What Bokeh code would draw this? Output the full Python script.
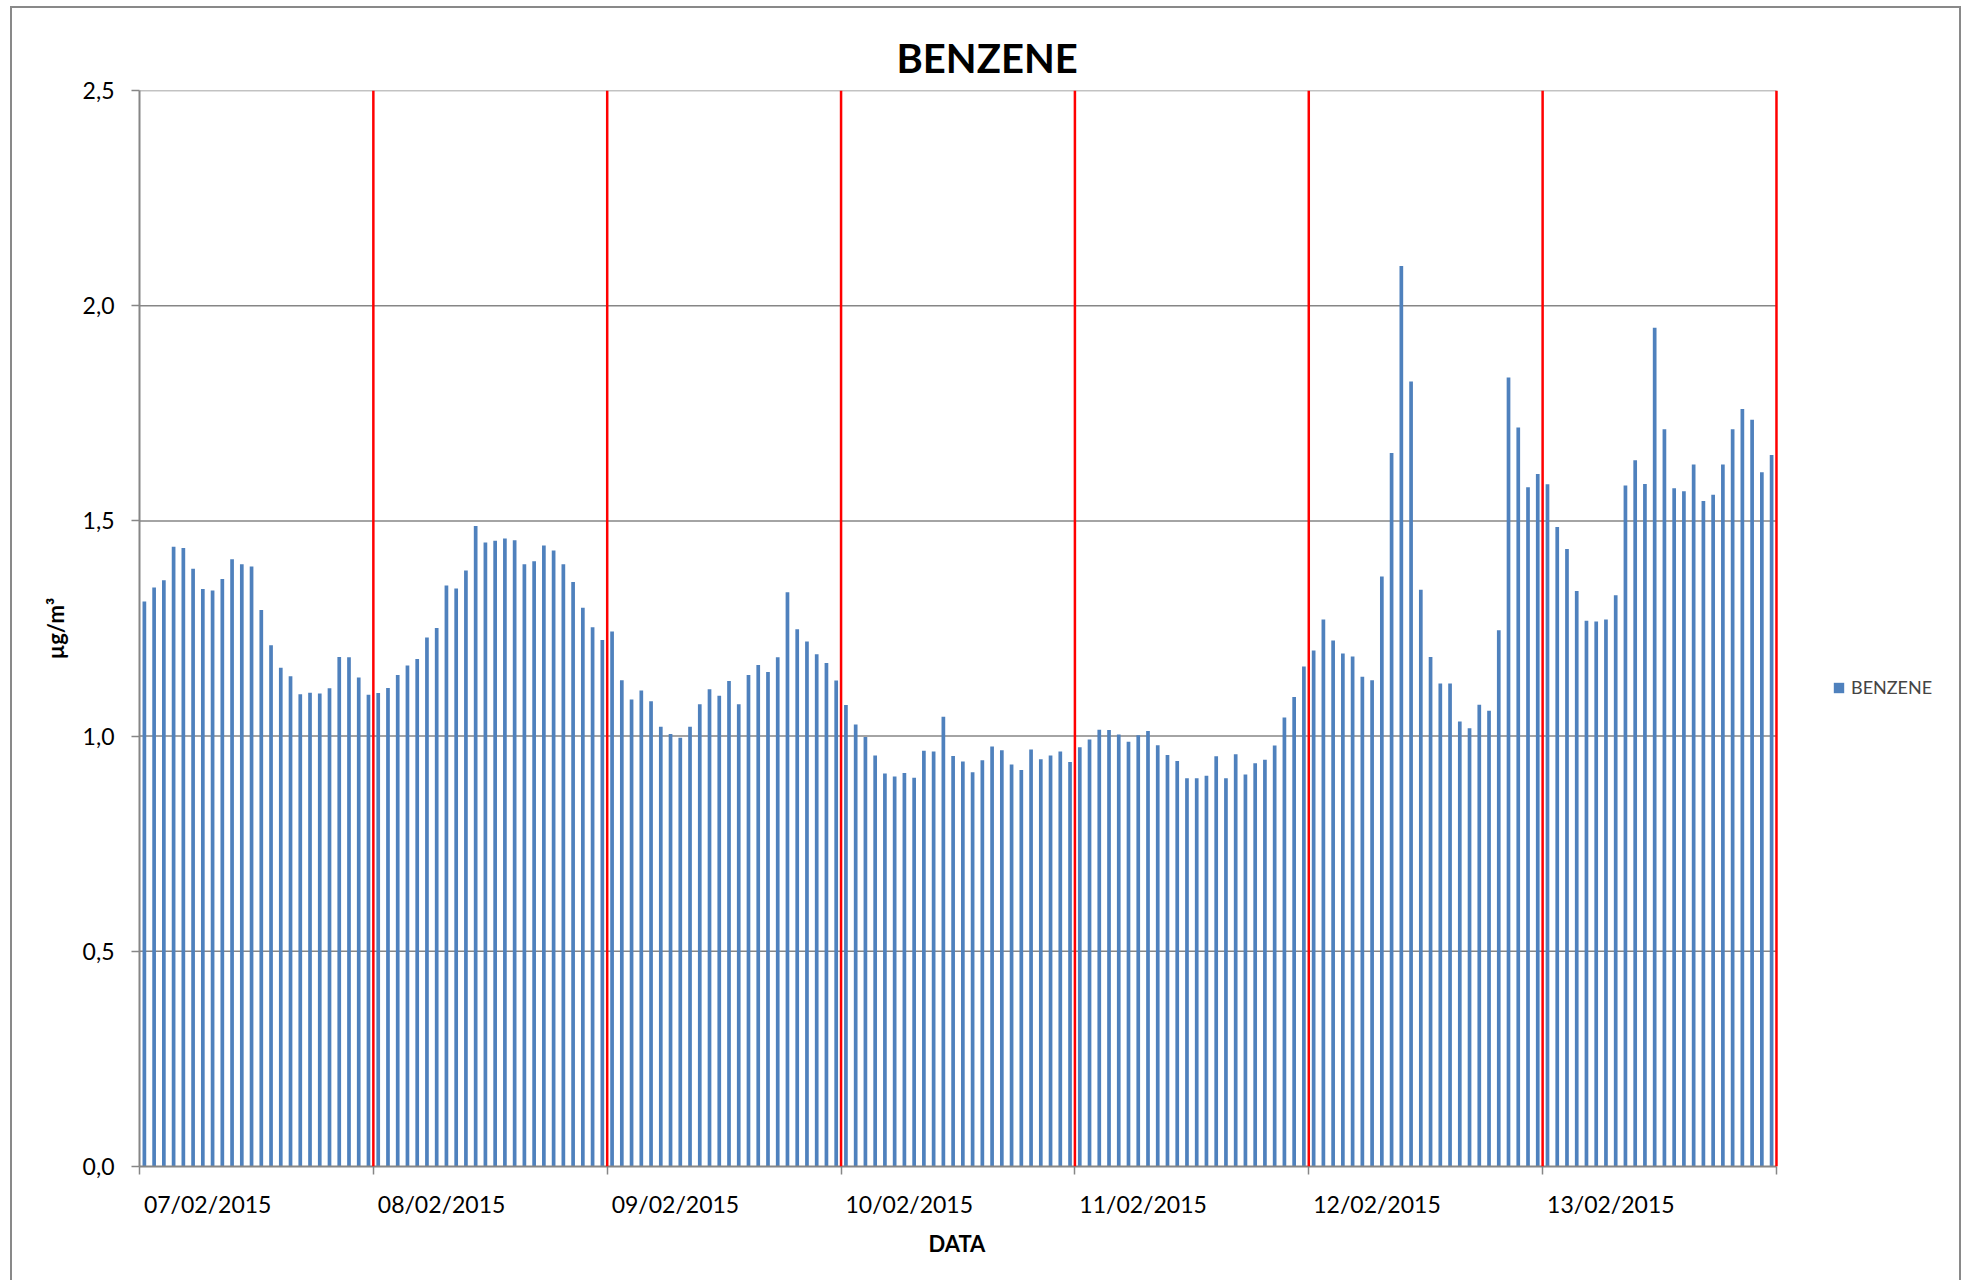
from bokeh.plotting import figure
from bokeh.models import (Range1d, FixedTicker, Span, Legend, LegendItem,
                          ColumnDataSource, Title)
from bokeh.embed import file_html
from bokeh.resources import INLINE

# ---- data (hourly benzene, µg/m³) ----
dates = ["07/02/2015", "08/02/2015", "09/02/2015", "10/02/2015",
         "11/02/2015", "12/02/2015", "13/02/2015"]
day1 = [1.313, 1.345, 1.362, 1.440, 1.437, 1.389, 1.342, 1.338, 1.365, 1.411, 1.399, 1.394,
        1.293, 1.211, 1.159, 1.139, 1.097, 1.101, 1.099, 1.111, 1.184, 1.183, 1.136, 1.096]
day2 = [1.100, 1.112, 1.142, 1.164, 1.179, 1.229, 1.251, 1.350, 1.343, 1.385, 1.488, 1.450,
        1.454, 1.459, 1.455, 1.399, 1.406, 1.443, 1.431, 1.399, 1.358, 1.298, 1.253, 1.223]
day3 = [1.243, 1.130, 1.085, 1.106, 1.081, 1.022, 1.005, 0.996, 1.022, 1.074, 1.109, 1.094,
        1.128, 1.074, 1.142, 1.165, 1.149, 1.183, 1.334, 1.248, 1.220, 1.190, 1.170, 1.129]
day4 = [1.072, 1.027, 0.998, 0.955, 0.913, 0.906, 0.914, 0.903, 0.966, 0.964, 1.045, 0.954,
        0.941, 0.916, 0.944, 0.976, 0.967, 0.934, 0.921, 0.969, 0.946, 0.955, 0.964, 0.940]
day5 = [0.974, 0.992, 1.015, 1.014, 1.004, 0.987, 1.002, 1.012, 0.979, 0.956, 0.942, 0.902,
        0.902, 0.908, 0.953, 0.902, 0.958, 0.911, 0.937, 0.945, 0.978, 1.043, 1.091, 1.162]
day6 = [1.199, 1.271, 1.222, 1.192, 1.185, 1.138, 1.130, 1.371, 1.658, 2.092, 1.824, 1.340,
        1.184, 1.122, 1.122, 1.034, 1.018, 1.073, 1.059, 1.246, 1.833, 1.717, 1.578, 1.609]
day7 = [1.585, 1.486, 1.435, 1.337, 1.268, 1.266, 1.271, 1.327, 1.582, 1.641, 1.586, 1.949,
        1.713, 1.576, 1.569, 1.631, 1.546, 1.561, 1.631, 1.713, 1.760, 1.735, 1.613, 1.653]
y_ticks = [0.0, 0.5, 1.0, 1.5, 2.0, 2.5]
y_tick_labels = ["0,0", "0,5", "1,0", "1,5", "2,0", "2,5"]

values = day1 + day2 + day3 + day4 + day5 + day6 + day7
hours_per_day = 24
n = len(values)
idx = list(range(n))
src = ColumnDataSource(dict(x=idx, top=values))

FONT = "Lato"
GRAY = "#868686"
BORDER = "#898989"
BLUE = "#4F81BD"

W, H = 1968, 1280
LEGEND_ROOM = 17.86        # extra x-range to the right that hosts the legend
x_end = n - 0.5
p = figure(width=W, height=H, output_backend="svg", toolbar_location=None,
           x_range=Range1d(-0.5, x_end + LEGEND_ROOM), y_range=Range1d(0, 2.5),
           min_border_left=139, min_border_right=18, min_border_top=90,
           min_border_bottom=114)
p.outline_line_color = None
p.background_fill_color = "white"
p.border_fill_color = None
# outer chart border (left, top, right edges; bottom lies beyond the page)
p.styles = {
    "background-color": "white",
    "background-image": ("linear-gradient(%s,%s), linear-gradient(%s,%s), "
                         "linear-gradient(%s,%s)") % ((BORDER,) * 6),
    "background-size": "2px 100%, 1951px 2px, 2px 100%",
    "background-position": "10px 6px, 10px 6px, 1959px 6px",
    "background-repeat": "no-repeat",
}

# title
p.title.text = "BENZENE"
p.title.align = "left"
p.title.offset = 757
p.title.text_font = FONT
p.title.text_font_style = "bold"
p.title.text_font_size = "40px"
p.title.text_color = "black"
p.title.standoff = 18

# horizontal gridlines (limited to the plot area)
g = y_ticks[1:]
p.segment(x0=[-0.5] * len(g), x1=[x_end] * len(g), y0=g, y1=g,
          line_color=GRAY, line_width=1.5, level="underlay")

r = p.vbar(x="x", top="top", width=0.38, bottom=0, source=src,
           fill_color=BLUE, line_color=None)

# y axis
yax = p.yaxis[0]
yax.ticker = FixedTicker(ticks=y_ticks, minor_ticks=[])
yax.major_label_overrides = {t: l for t, l in zip(y_ticks, y_tick_labels)}
yax.axis_line_color = GRAY
yax.axis_line_width = 2
yax.major_tick_line_color = GRAY
yax.major_tick_line_width = 1.5
yax.major_tick_in = 0
yax.major_tick_out = 8
yax.minor_tick_line_color = None
yax.major_label_text_font = FONT
yax.major_label_text_font_size = "23px"
yax.major_label_text_color = "black"
yax.major_label_standoff = 17
yax.axis_label = "µg/m³"
yax.axis_label_text_font = FONT
yax.axis_label_text_font_style = "bold"
yax.axis_label_text_font_size = "22px"
yax.axis_label_text_color = "black"
yax.axis_label_standoff = 11

# x axis: labels inside each day, tick marks at day boundaries
label_pos = [d * hours_per_day + 6.5 for d in range(len(dates))]
bounds = [d * hours_per_day - 0.5 for d in range(len(dates) + 1)]
xax = p.xaxis[0]
xax.bounds = (-0.5, x_end)
xax.ticker = FixedTicker(ticks=label_pos, minor_ticks=bounds)
xax.major_label_overrides = {t: l for t, l in zip(label_pos, dates)}
xax.axis_line_color = GRAY
xax.axis_line_width = 2
xax.major_tick_line_color = None
xax.major_tick_in = 0
xax.major_tick_out = 0
xax.minor_tick_line_color = GRAY
xax.minor_tick_line_width = 1.5
xax.minor_tick_in = 0
xax.minor_tick_out = 8
xax.major_label_text_font = FONT
xax.major_label_text_font_size = "23px"
xax.major_label_text_color = "black"
xax.major_label_standoff = 15

# x-axis title, centred under the bars
p.add_layout(Title(text="DATA", align="left", offset=789, text_font=FONT,
                   text_font_style="bold", text_font_size="22px",
                   text_color="black", vertical_align="top", standoff=19),
             "below")

p.xgrid.grid_line_color = None
p.ygrid.grid_line_color = None

# red day separators
for b in bounds[1:]:
    p.add_layout(Span(location=b, dimension="height", line_color="#FF0000",
                      line_width=2.5))

# legend (right of the bars)
legend = Legend(items=[LegendItem(label="BENZENE", renderers=[r])],
                location=(1693, 468), orientation="vertical",
                border_line_color=None, background_fill_alpha=0,
                padding=0, margin=0, glyph_width=13, glyph_height=13,
                label_standoff=6, label_text_font=FONT,
                label_text_font_size="18px", label_height=20)
p.add_layout(legend)

open("out.html", "w").write(file_html(p, INLINE))
